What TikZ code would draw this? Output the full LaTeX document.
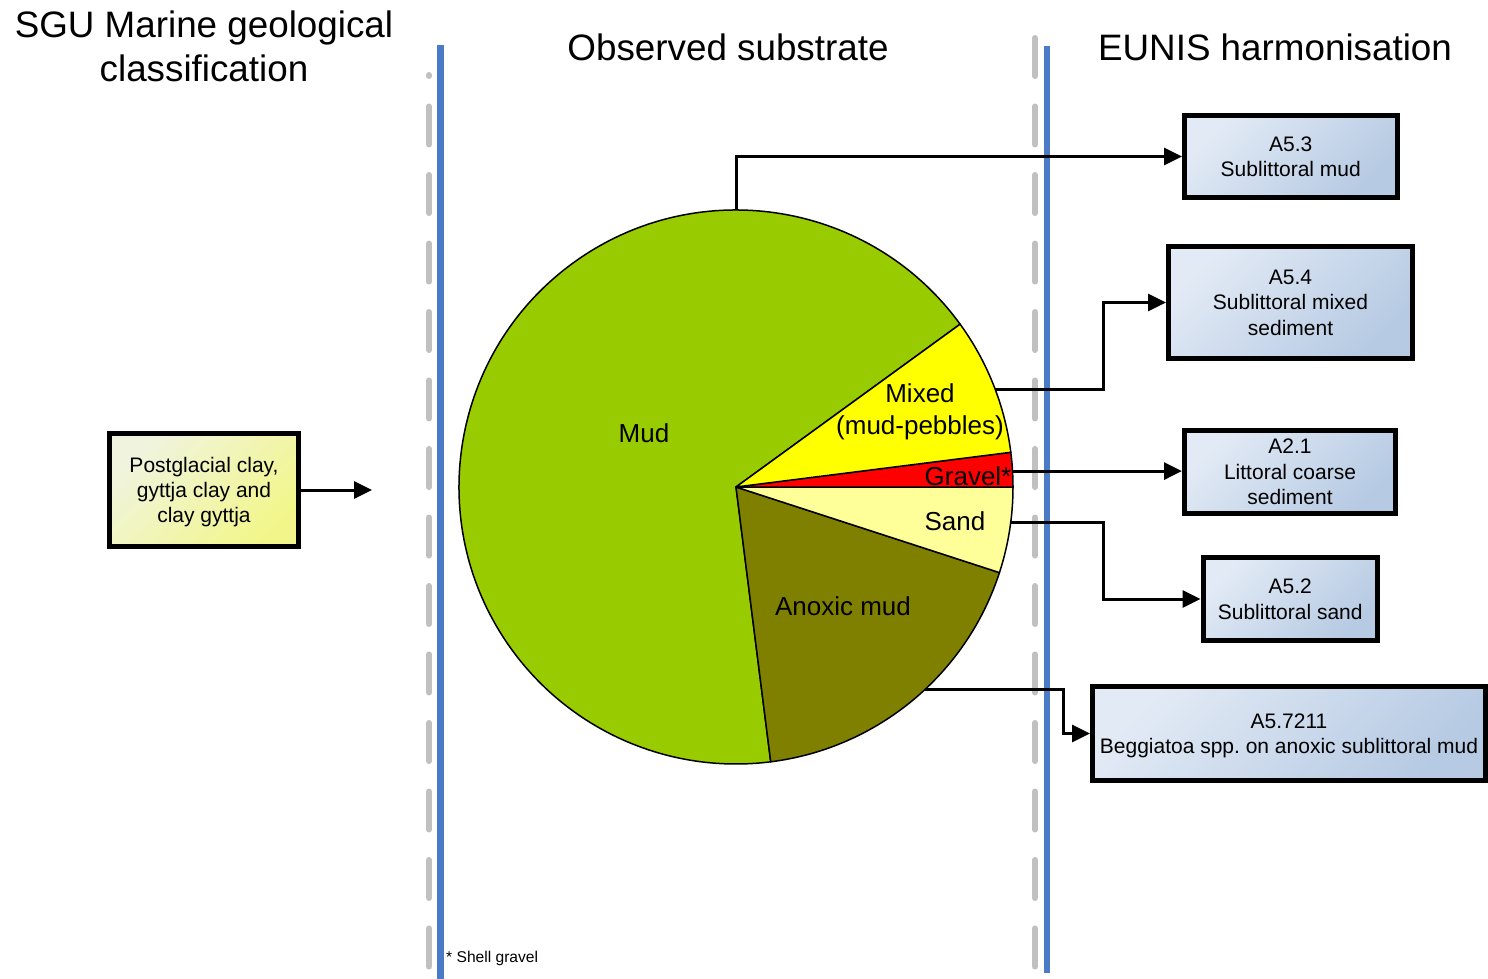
\documentclass[tikz,border=0pt]{standalone}
\usepackage{fontspec}
\setmainfont{Liberation Sans}
\usetikzlibrary{arrows.meta}
\frenchspacing

\definecolor{mudgreen}{HTML}{99CC00}
\definecolor{mixedyellow}{HTML}{FFFF00}
\definecolor{gravelred}{HTML}{FF0000}
\definecolor{sandyellow}{HTML}{FFFF99}
\definecolor{anoxicolive}{HTML}{808000}
\definecolor{boxlight}{HTML}{E2EAF5}
\definecolor{boxdark}{HTML}{B6CAE3}
\definecolor{srclight}{HTML}{F0F4DE}
\definecolor{srcdark}{HTML}{F2F68A}
\definecolor{divblue}{HTML}{4A7BC6}
\definecolor{divgray}{HTML}{C0C0C0}

\begin{document}
\begin{tikzpicture}[x=1pt, y=-1pt,
  heading/.style={align=center, inner sep=0pt, font=\fontsize{36.8}{44}\selectfont},
  slicelabel/.style={align=center, inner sep=0pt, font=\fontsize{26}{32}\selectfont},
  slice/.style={draw=black, line width=1.5pt, line join=round},
  eunisbox/.style={draw=black, line width=5pt, inner sep=0pt, align=center,
    font=\fontsize{21}{25.5}\selectfont, text depth=0pt,
    top color=boxlight, bottom color=boxdark, shading angle=45},
  srcbox/.style={draw=black, line width=5pt, inner sep=0pt, align=center,
    font=\fontsize{21}{25}\selectfont, text depth=0pt,
    top color=srclight, bottom color=srcdark, shading angle=45},
  conn/.style={line width=3pt, -{Triangle[length=18pt,width=17pt]}},
  divider/.style={line width=7pt, divblue},
  guide/.style={line width=6pt, divgray, line cap=round, dash pattern=on 38pt off 30.5pt}
]
\useasboundingbox (0,0) rectangle (1488,979);

% column headings
\node[heading] (hsgu) at (204,46) {SGU Marine geological\\classification};
\node[heading] (hobs) at (728,47) {Observed substrate};
\node[heading] (heunis) at (1275,47) {EUNIS harmonisation};

% column dividers
\draw[guide, dash phase=37pt] (429,75) -- (429,967);
\draw[guide] (1035,38) -- (1035,967);
\draw[divider] (440,45) -- (440,979);
\draw[divider, line width=6pt] (1047,46) -- (1047,973);

% pie chart of observed substrate
\coordinate (pc) at (736,487);
\def\R{277}
\filldraw[slice, fill=mudgreen] (pc) -- ++(-36:\R) arc[start angle=-36, end angle=-277.2, radius=\R] -- cycle;
\filldraw[slice, fill=anoxicolive] (pc) -- ++(82.8:\R) arc[start angle=82.8, end angle=18, radius=\R] -- cycle;
\filldraw[slice, fill=sandyellow] (pc) -- ++(18:\R) arc[start angle=18, end angle=0, radius=\R] -- cycle;
\filldraw[slice, fill=gravelred] (pc) -- ++(0:\R) arc[start angle=0, end angle=-7.2, radius=\R] -- cycle;
\filldraw[slice, fill=mixedyellow] (pc) -- ++(-7.2:\R) arc[start angle=-7.2, end angle=-36, radius=\R] -- cycle;

\node[slicelabel] (lmud) at (644,433) {Mud};
\node[slicelabel] (lmixed) at (920,412) {Mixed\\(mud-pebbles)};
\node[slicelabel] (lgravel) at (968,476) {Gravel*};
\node[slicelabel] (lsand) at (955,521) {Sand};
\node[slicelabel] (lanoxic) at (843,606) {Anoxic mud};

% connector anchors on the pie rim
\path (pc) ++(-90:\R) coordinate (pMud);
\path (pc) ++(-20.6:\R) coordinate (pMixed);
\path (pc) ++(-3.3:\R) coordinate (pGravel);
\path (pc) ++(7.4:\R) coordinate (pSand);
\path (pc) ++(46.9:\R) coordinate (pAnoxic);

% source class
\node[srcbox, minimum width=189pt, minimum height=113pt] (src) at (204,490)
  {Postglacial clay,\\gyttja clay and\\clay gyttja};
\coordinate (srcend) at (372,490);

% EUNIS classes
\node[eunisbox, minimum width=212.5pt, minimum height=81pt] (a53) at (1290.75,156.5)
  {A5.3\\Sublittoral mud};
\node[eunisbox, minimum width=244pt, minimum height=112pt] (a54) at (1290.5,302.5)
  {A5.4\\Sublittoral mixed\\sediment};
\node[eunisbox, minimum width=211pt, minimum height=83pt] (a21) at (1290,472)
  {A2.1\\Littoral coarse\\sediment};
\node[eunisbox, minimum width=174.5pt, minimum height=83pt] (a52) at (1290.25,599)
  {A5.2\\Sublittoral sand};
\node[eunisbox, minimum width=393pt, minimum height=94pt] (a57) at (1289,733.5)
  {A5.7211\\Beggiatoa spp. on anoxic sublittoral mud};

% elbow points of connectors
\coordinate (kMixed) at (1103,302.5);
\coordinate (kSand) at (1103,599);
\coordinate (kAnoxic) at (1063,733.5);

% connectors
\draw[conn] (src.east) -- (srcend);
\draw[conn] (pMud) |- (a53.west);
\draw[conn] (pMixed) -| (kMixed) -- (a54.west);
\draw[conn] (pGravel) -- (pGravel -| a21.west);
\draw[conn] (pSand) -| (kSand) -- (a52.west);
\draw[conn] (pAnoxic) -| (kAnoxic) -- (a57.west);

% footnote
\node[anchor=west, inner sep=0pt, font=\fontsize{15.6}{18}\selectfont] (fn) at (446,958) {* Shell gravel};
\end{tikzpicture}
\end{document}
